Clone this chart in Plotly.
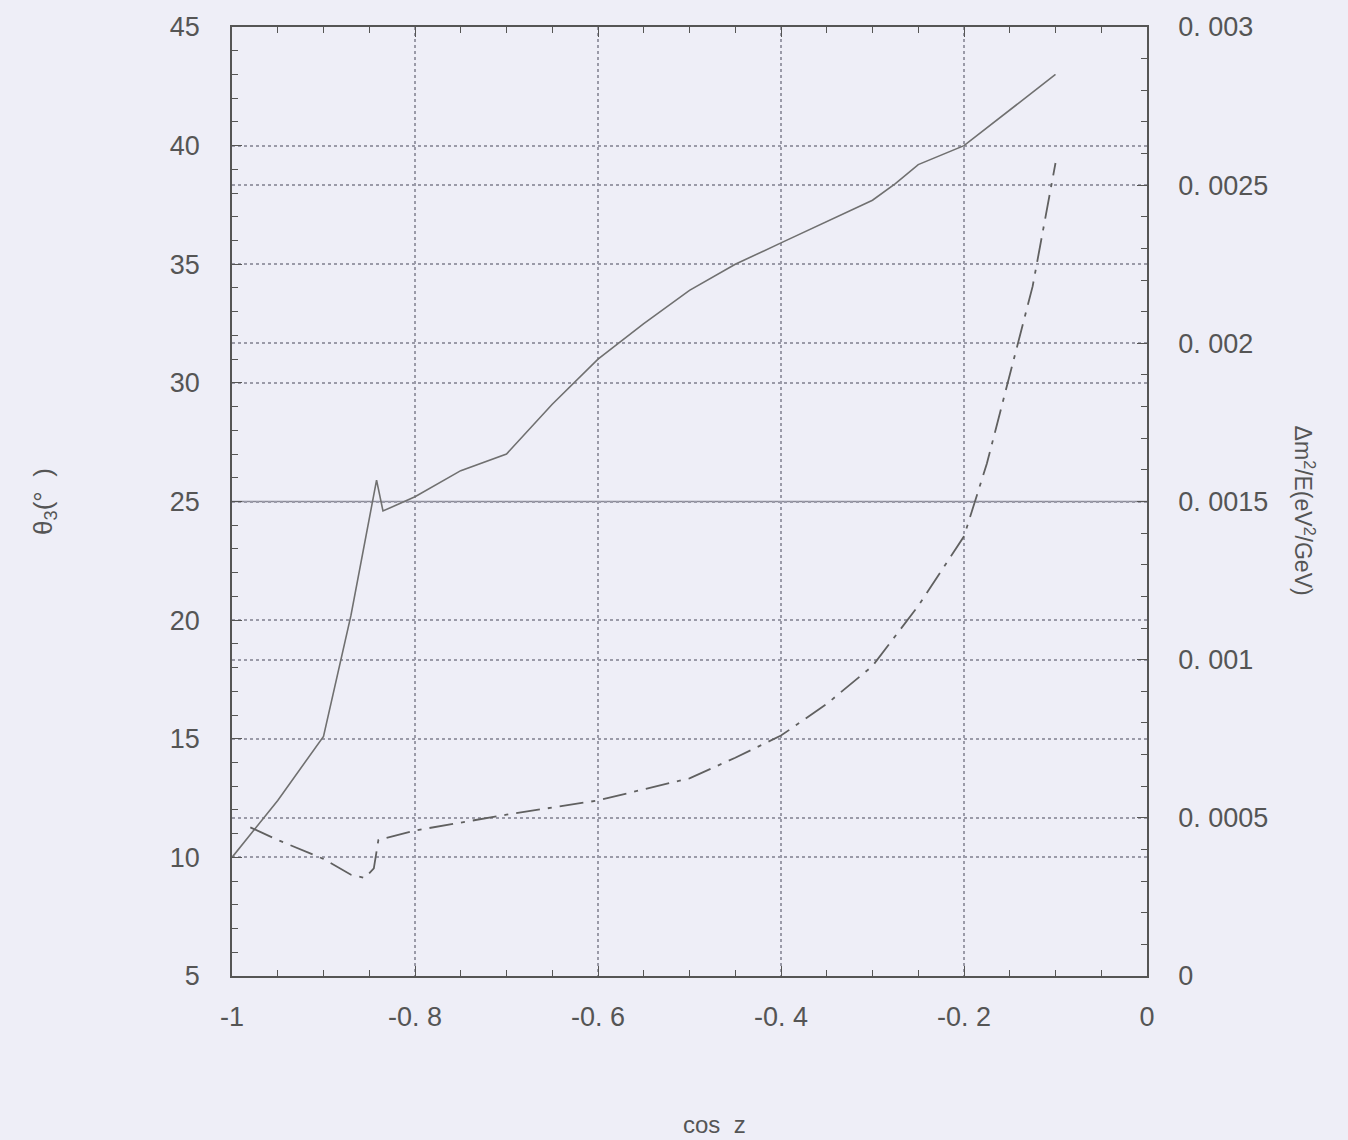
import plotly.graph_objects as go

# Solid curve: theta_3 (degrees) vs cos z  (left axis)
cosz_theta = [-1.0, -0.95, -0.9, -0.87, -0.842, -0.835, -0.8, -0.75, -0.7, -0.65, -0.6,
              -0.55, -0.5, -0.45, -0.4, -0.35, -0.3, -0.275, -0.25, -0.2, -0.15, -0.1]
theta3 = [10.0, 12.4, 15.1, 20.2, 25.9, 24.6, 25.2, 26.3, 27.0, 29.1, 31.0,
          32.5, 33.9, 35.0, 35.9, 36.8, 37.7, 38.4, 39.2, 40.0, 41.5, 43.0]

# Dashed curve: dm^2/E (eV^2/GeV) vs cos z  (right axis)
cosz_dm = [-0.98, -0.95, -0.9, -0.87, -0.855, -0.845, -0.84, -0.8, -0.75, -0.7, -0.6,
           -0.5, -0.45, -0.4, -0.35, -0.3, -0.25, -0.2, -0.175, -0.15, -0.125, -0.1]
dm2_over_E = [0.00047, 0.00043, 0.00037, 0.00032, 0.00031, 0.00034, 0.00043, 0.00046,
              0.000485, 0.00051, 0.000555, 0.000625, 0.00069, 0.00076, 0.00086, 0.00098,
              0.00117, 0.00139, 0.00162, 0.0019, 0.00218, 0.00257]

x_tickvals = [-1, -0.8, -0.6, -0.4, -0.2, 0]
x_ticktext = ["-1", "-0. 8", "-0. 6", "-0. 4", "-0. 2", "0"]
y_tickvals = [5, 10, 15, 20, 25, 30, 35, 40, 45]
y2_tickvals = [0, 0.0005, 0.001, 0.0015, 0.002, 0.0025, 0.003]
y2_ticktext = ["0", "0. 0005", "0. 001", "0. 0015", "0. 002", "0. 0025", "0. 003"]

BG = "#EEEEF7"
AX = "#555555"
GRID = "#9a9aa8"
FONT = "Liberation Sans, Arial"

fig = go.Figure()
fig.add_trace(go.Scatter(x=cosz_theta, y=theta3, mode="lines", yaxis="y",
                         line=dict(color="#707070", width=1.6), showlegend=False))
fig.add_trace(go.Scatter(x=cosz_dm, y=dm2_over_E, mode="lines", yaxis="y2",
                         line=dict(color="#606060", width=1.8, dash="24px,8px,4px,8px"),
                         showlegend=False))

fig.update_layout(
    width=1348, height=1140,
    paper_bgcolor=BG, plot_bgcolor=BG,
    margin=dict(l=232, r=201, t=22, b=164),
    font=dict(family=FONT, size=27, color=AX),
    xaxis=dict(range=[-1, 0], tickvals=x_tickvals, ticktext=x_ticktext,
               ticks="inside", ticklen=10, tickcolor=AX, tickwidth=1.2,
               showline=True, linecolor=AX, linewidth=1.5, mirror="ticks",
               showgrid=True, gridcolor=GRID, griddash="dot", gridwidth=1.5,
               zeroline=False, ticklabelstandoff=16,
               minor=dict(dtick=0.05, ticks="inside", ticklen=6, tickcolor=AX, showgrid=False)),
    yaxis=dict(range=[5, 45], tickvals=y_tickvals,
               ticks="inside", ticklen=10, tickcolor=AX, tickwidth=1.2,
               showline=True, linecolor=AX, linewidth=1.5,
               showgrid=True, gridcolor=GRID, griddash="dot", gridwidth=1.5,
               zeroline=False, ticklabelstandoff=25,
               minor=dict(dtick=1, ticks="inside", ticklen=6, tickcolor=AX, showgrid=False)),
    yaxis2=dict(range=[0, 0.003], tickvals=y2_tickvals, ticktext=y2_ticktext,
                overlaying="y", side="right", anchor="x",
                ticks="inside", ticklen=10, tickcolor=AX, tickwidth=1.2,
                showline=True, linecolor=AX, linewidth=1.5,
                showgrid=True, gridcolor=GRID, griddash="dot", gridwidth=1.5,
                zeroline=False, ticklabelstandoff=24,
                minor=dict(dtick=0.0001, ticks="inside", ticklen=6, tickcolor=AX, showgrid=False)),
    shapes=[dict(type="line", xref="paper", x0=0, x1=1, yref="y", y0=25, y1=25,
                 line=dict(color="#8a8a96", width=1.5), layer="below")],
    annotations=[
        dict(text="θ<sub>3</sub>(°  )", xref="paper", yref="paper", x=-0.205, y=0.5,
             textangle=-90, showarrow=False, font=dict(size=26, color=AX, family=FONT),
             xanchor="center", yanchor="middle"),
        dict(text="Δm<sup>2</sup>/E(eV<sup>2</sup>/GeV)", xref="paper", yref="paper",
             x=1.172, y=0.49, textangle=90, showarrow=False,
             font=dict(size=23, color=AX, family=FONT), xanchor="center", yanchor="middle"),
        dict(text="cos  z", xref="paper", yref="paper", x=0.527, y=-0.156,
             showarrow=False, font=dict(size=24, color=AX, family=FONT),
             xanchor="center", yanchor="middle"),
    ],
)

fig.write_html("out.html", config={"displayModeBar": False},
               post_script="document.body.style.margin='0';"
                           "document.body.style.background='" + BG + "';")
